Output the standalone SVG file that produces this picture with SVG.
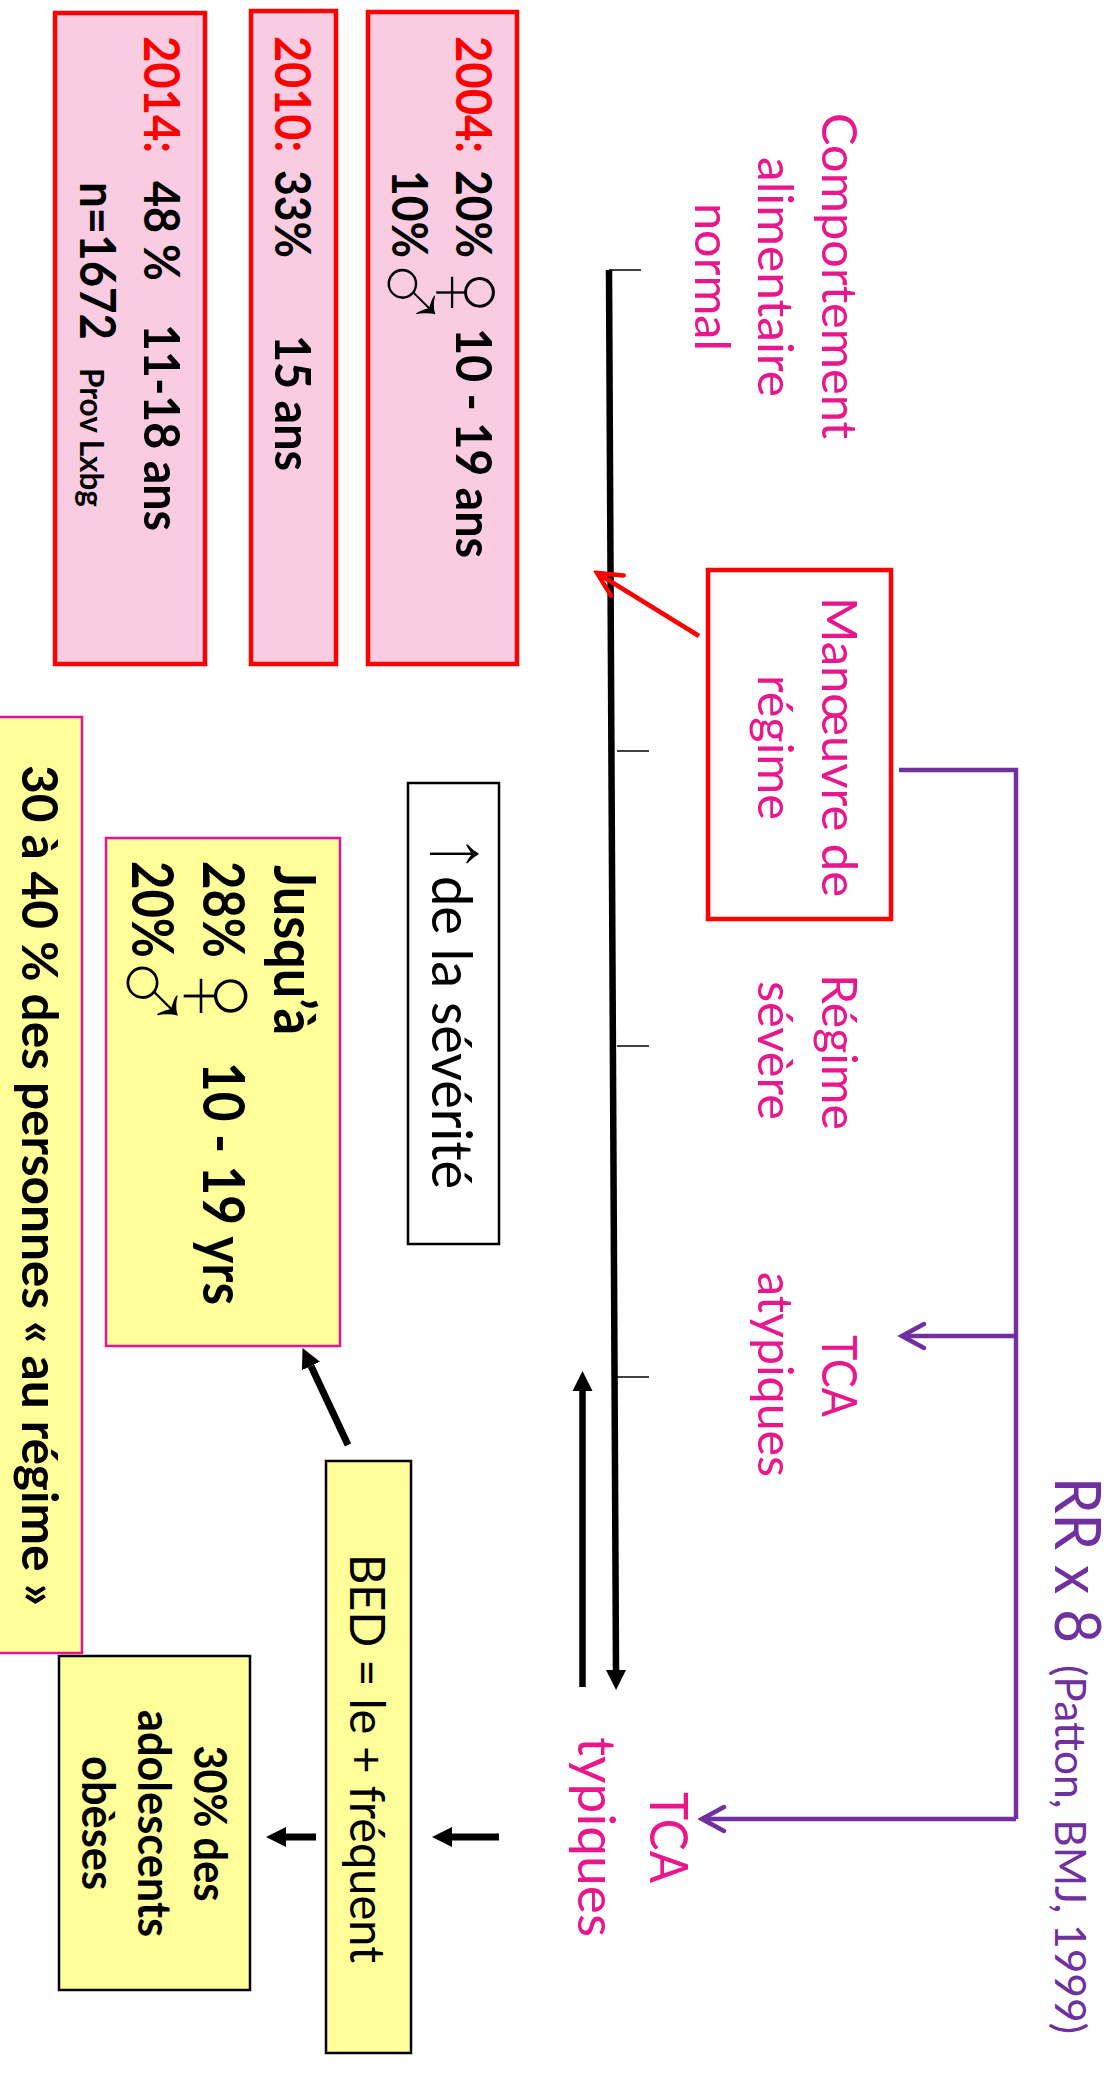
<svg xmlns="http://www.w3.org/2000/svg" width="1112" height="2073" viewBox="0 0 1112 2073">
<defs>
<style>
text{font-family:Lato,"Noto Sans",sans-serif;fill:#000}
.b{font-weight:700;font-size:50px}
.r{font-size:49px}
.red{fill:#f00}
.pk{fill:#E9168C}
.pu{fill:#7030A0}
.sym{font-family:"Liberation Serif",serif;font-size:115px;font-weight:400;stroke-width:1.600}
.onp{stroke:#F9CCE2}
.ony{stroke:#FFFF99}
.pinkbox{fill:#F9CCE2;stroke:#f00;stroke-width:4.500}
.ybox{fill:#FFFF99;stroke:#E6109A;stroke-width:2.500}
.yk{fill:#FFFF99;stroke:#000;stroke-width:2.500}
.bl{stroke:#000;fill:none}
.pl{stroke:#7030A0;fill:none;stroke-width:4.500}
</style>
<marker id="ah" markerUnits="userSpaceOnUse" markerWidth="24" markerHeight="24" refX="0" refY="12" orient="auto"><path d="M0,2 L20,12 L0,22z" fill="#000"/></marker>
<marker id="ap" markerUnits="userSpaceOnUse" markerWidth="30" markerHeight="32" refX="26" refY="16" orient="auto"><path d="M4,4 L26,16 L4,28" fill="none" stroke="#7030A0" stroke-width="4.500" stroke-linecap="round"/></marker>
<marker id="ar" markerUnits="userSpaceOnUse" markerWidth="34" markerHeight="36" refX="30" refY="18" orient="auto"><path d="M6,6 L30,18 L6,30" fill="none" stroke="#f00" stroke-width="4.500" stroke-linecap="round"/></marker>
</defs>
<rect width="1112" height="2073" fill="#fff"/>

<g id="connectors">
<line class="bl" x1="609" y1="270" x2="616" y2="1670" stroke-width="6.500" marker-end="url(#ah)"/>
<line class="bl" x1="582.500" y1="1687" x2="582.500" y2="1391" stroke-width="6.500" marker-end="url(#ah)"/>
<line class="bl" x1="609" y1="270" x2="641" y2="270" stroke-width="1.500"/>
<line class="bl" x1="617" y1="751" x2="649" y2="751" stroke-width="1.500"/>
<line class="bl" x1="617" y1="1046" x2="649" y2="1046" stroke-width="1.500"/>
<line class="bl" x1="617" y1="1377" x2="649" y2="1377" stroke-width="1.500"/>
<line x1="699" y1="636" x2="597" y2="573" stroke="#f00" stroke-width="4.500" marker-end="url(#ar)"/>
<path class="pl" d="M899,770 H1016 V1819"/>
<line class="pl" x1="1016" y1="1336" x2="902" y2="1336" marker-end="url(#ap)"/>
<line class="pl" x1="1016" y1="1819" x2="702" y2="1819" marker-end="url(#ap)"/>
<line class="bl" x1="499" y1="1837" x2="452" y2="1837" stroke-width="7" marker-end="url(#ah)"/>
<line class="bl" x1="316" y1="1837" x2="286" y2="1837" stroke-width="7" marker-end="url(#ah)"/>
<line class="bl" x1="348" y1="1445" x2="311" y2="1366" stroke-width="7" marker-end="url(#ah)"/>
</g>

<g id="node-2004">
<rect class="pinkbox" x="368" y="12" width="149" height="652"/>
<text class="b red" transform="translate(456,36) rotate(90)" textLength="117" lengthAdjust="spacingAndGlyphs">2004:</text>
<text class="b" transform="translate(456,170) rotate(90)" textLength="88" lengthAdjust="spacingAndGlyphs">20%</text>
<text class="sym onp" transform="translate(431,249) rotate(90)">♀</text>
<text class="b" transform="translate(456,328) rotate(90)" textLength="230" lengthAdjust="spacingAndGlyphs">10 - 19 ans</text>
<text class="b" transform="translate(392,170) rotate(90)" textLength="88" lengthAdjust="spacingAndGlyphs">10%</text>
<text class="sym onp" style="font-size:112px" transform="translate(373,249.500) rotate(90)">♂</text>
</g>

<g id="node-2010">
<rect class="pinkbox" x="251" y="11" width="85" height="653"/>
<text class="b red" transform="translate(275,36) rotate(90)" textLength="116" lengthAdjust="spacingAndGlyphs">2010:</text>
<text class="b" transform="translate(275,170) rotate(90)" textLength="88" lengthAdjust="spacingAndGlyphs">33%</text>
<text class="b" transform="translate(275,335) rotate(90)" textLength="136" lengthAdjust="spacingAndGlyphs">15 ans</text>
</g>

<g id="node-2014">
<rect class="pinkbox" x="55" y="13" width="150" height="651"/>
<text class="b red" transform="translate(143.500,36) rotate(90)" textLength="117" lengthAdjust="spacingAndGlyphs">2014:</text>
<text class="b" transform="translate(143.500,181) rotate(90)" textLength="100" lengthAdjust="spacingAndGlyphs">48 %</text>
<text class="b" transform="translate(143.500,324) rotate(90)" textLength="207" lengthAdjust="spacingAndGlyphs">11-18 ans</text>
<text class="b" transform="translate(80,182) rotate(90)" textLength="158" lengthAdjust="spacingAndGlyphs">n=1672</text>
<text class="b" style="font-size:33px" transform="translate(80,368) rotate(90)" textLength="139" lengthAdjust="spacingAndGlyphs">Prov Lxbg</text>
</g>

<g id="node-comportement">
<text class="r pk" transform="translate(822,113) rotate(90)" textLength="326" lengthAdjust="spacingAndGlyphs">Comportement</text>
<text class="r pk" transform="translate(758,157) rotate(90)" textLength="240" lengthAdjust="spacingAndGlyphs">alimentaire</text>
<text class="r pk" transform="translate(695,203) rotate(90)" textLength="148" lengthAdjust="spacingAndGlyphs">normal</text>
</g>

<g id="node-manoeuvre">
<rect x="708" y="570" width="183" height="349" fill="none" stroke="#f00" stroke-width="4.500"/>
<text class="r pk" transform="translate(822,597) rotate(90)" textLength="300" lengthAdjust="spacingAndGlyphs">Manœuvre de</text>
<text class="r pk" transform="translate(758,675) rotate(90)" textLength="145" lengthAdjust="spacingAndGlyphs">régime</text>
</g>

<g id="node-regime-severe">
<text class="r pk" transform="translate(822,974) rotate(90)" textLength="156" lengthAdjust="spacingAndGlyphs">Régime</text>
<text class="r pk" transform="translate(758,981) rotate(90)" textLength="139" lengthAdjust="spacingAndGlyphs">sévère</text>
</g>

<g id="node-tca-atypiques">
<text class="r pk" transform="translate(822,1335) rotate(90)" textLength="82" lengthAdjust="spacingAndGlyphs">TCA</text>
<text class="r pk" transform="translate(758,1272) rotate(90)" textLength="205" lengthAdjust="spacingAndGlyphs">atypiques</text>
</g>

<g id="node-tca-typiques">
<text class="r pk" style="font-size:53px" transform="translate(650,1792) rotate(90)" textLength="91" lengthAdjust="spacingAndGlyphs">TCA</text>
<text class="r pk" style="font-size:52px" transform="translate(578,1737) rotate(90)" textLength="200" lengthAdjust="spacingAndGlyphs">typiques</text>
</g>

<g id="node-rr">
<text class="pu" style="font-size:64px" transform="translate(1055,1477) rotate(90)" textLength="166" lengthAdjust="spacingAndGlyphs">RR x 8</text>
<text class="pu" style="font-size:42px" transform="translate(1055,1665) rotate(90)" textLength="369" lengthAdjust="spacingAndGlyphs">(Patton, BMJ, 1999)</text>
</g>

<g id="node-severite">
<rect x="408" y="783" width="91" height="461" fill="#fff" stroke="#000" stroke-width="2.500"/>
<text class="sym" style="font-size:84px;stroke:#fff;stroke-width:1" transform="translate(432,833) rotate(90)">↑</text>
<text class="r" style="font-size:56px" transform="translate(432,876) rotate(90)" textLength="313" lengthAdjust="spacingAndGlyphs">de la sévérité</text>
</g>

<g id="node-jusqua">
<rect class="ybox" x="106" y="838" width="234" height="508"/>
<text class="b" style="font-size:57px" transform="translate(274,865) rotate(90)" textLength="170" lengthAdjust="spacingAndGlyphs">Jusqu’à</text>
<text class="b" style="font-size:57px" transform="translate(203,861) rotate(90)" textLength="97" lengthAdjust="spacingAndGlyphs">28%</text>
<text class="sym ony" style="font-size:125px" transform="translate(178,949) rotate(90)">♀</text>
<text class="b" style="font-size:57px" transform="translate(203,1062) rotate(90)" textLength="243" lengthAdjust="spacingAndGlyphs">10 - 19 yrs</text>
<text class="b" style="font-size:57px" transform="translate(132,861) rotate(90)" textLength="97" lengthAdjust="spacingAndGlyphs">20%</text>
<text class="sym ony" style="font-size:120px" transform="translate(111,946) rotate(90)">♂</text>
</g>

<g id="node-30-40">
<rect class="ybox" x="-5" y="717" width="87" height="936"/>
<text class="b" transform="translate(22,765) rotate(90)" textLength="841" lengthAdjust="spacingAndGlyphs">30 à 40 % des personnes « au régime »</text>
</g>

<g id="node-bed">
<rect class="yk" x="326" y="1461" width="85" height="592"/>
<text class="r" transform="translate(350,1554) rotate(90)" textLength="409" lengthAdjust="spacingAndGlyphs">BED = le + fréquent</text>
</g>

<g id="node-30-obeses">
<rect class="yk" x="59" y="1656" width="191" height="334"/>
<text class="b" style="font-size:45px" transform="translate(194,1745.500) rotate(90)" textLength="156" lengthAdjust="spacingAndGlyphs">30% des</text>
<text class="b" style="font-size:45px" transform="translate(138,1710) rotate(90)" textLength="227" lengthAdjust="spacingAndGlyphs">adolescents</text>
<text class="b" style="font-size:45px" transform="translate(82,1756) rotate(90)" textLength="134" lengthAdjust="spacingAndGlyphs">obèses</text>
</g>
</svg>
